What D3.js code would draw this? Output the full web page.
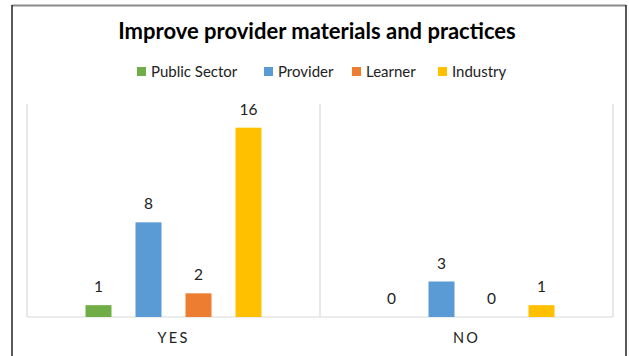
<!DOCTYPE html>
<html>
<head>
<meta charset="utf-8">
<script src="https://cdn.jsdelivr.net/npm/d3@7"></script>
<style>
  html, body { margin: 0; padding: 0; background: #fff; }
  svg { display: block; font-family: Lato, "Open Sans", sans-serif; }
</style>
</head>
<body>
<svg id="chart" width="629" height="356"></svg>
<script>
// Responses per stakeholder group
const categories = ["YES", "NO"];
const seriesNames = ["Public Sector", "Provider", "Learner", "Industry"];
const seriesColors = ["#70AD47", "#5B9BD5", "#ED7D31", "#FFC000"];
const publicSector = [1, 0];
const provider = [8, 3];
const learner = [2, 0];
const industry = [16, 1];
const yDomainMax = 18;

const seriesValues = [publicSector, provider, learner, industry];
const rows = categories.map((c, i) => ({
  category: c,
  values: seriesNames.map((s, j) => ({ series: s, value: seriesValues[j][i], color: seriesColors[j] }))
}));

const svg = d3.select("#chart");
const plot = { left: 27, right: 613, top: 104, bottom: 317 };

// Frame around the chart
svg.append("line").attr("x1", 12).attr("x2", 626).attr("y1", 5.5).attr("y2", 5.5)
  .attr("stroke", "#8a8a8a").attr("stroke-width", 2);
svg.append("line").attr("x1", 12).attr("x2", 12).attr("y1", 5).attr("y2", 356)
  .attr("stroke", "#222").attr("stroke-width", 1.5);
svg.append("line").attr("x1", 626).attr("x2", 626).attr("y1", 5).attr("y2", 356)
  .attr("stroke", "#222").attr("stroke-width", 1.5);

// Title
svg.append("text")
  .attr("x", 317).attr("y", 39)
  .attr("text-anchor", "middle")
  .attr("font-size", 22).attr("font-weight", 700).attr("fill", "#000")
  .text("Improve provider materials and practices");

// Legend
const legendX = [137, 264, 352, 438];
const legend = svg.append("g");
seriesNames.forEach((name, i) => {
  const g = legend.append("g").attr("transform", `translate(${legendX[i]},67)`);
  g.append("rect").attr("width", 9).attr("height", 9).attr("fill", seriesColors[i]);
  g.append("text").attr("x", 14).attr("y", 9.5).attr("font-size", 15).attr("fill", "#222").text(name);
});

// Scales
const x0 = d3.scaleBand().domain(categories).range([plot.left, plot.right]).padding(0);
const x1 = d3.scaleBand().domain(seriesNames).range([0, x0.bandwidth()])
  .paddingInner(0.48).paddingOuter(1.17);
const y = d3.scaleLinear().domain([0, yDomainMax]).range([plot.bottom, plot.top]);

// Category separators and baseline
const grid = svg.append("g").attr("stroke", "#d9d9d9").attr("stroke-width", 1.2);
[...categories.map(c => x0(c)), plot.right].forEach(xv => {
  grid.append("line").attr("x1", xv).attr("x2", xv).attr("y1", plot.top).attr("y2", plot.bottom);
});
grid.append("line").attr("x1", plot.left).attr("x2", plot.right).attr("y1", plot.bottom).attr("y2", plot.bottom);

// Bars with value labels
const groups = svg.append("g").selectAll("g").data(rows).join("g")
  .attr("transform", d => `translate(${x0(d.category)},0)`);

groups.selectAll("rect").data(d => d.values).join("rect")
  .attr("x", d => x1(d.series))
  .attr("y", d => y(d.value))
  .attr("width", x1.bandwidth())
  .attr("height", d => y(0) - y(d.value))
  .attr("fill", d => d.color);

groups.selectAll("text").data(d => d.values).join("text")
  .attr("x", d => x1(d.series) + x1.bandwidth() / 2)
  .attr("y", d => y(d.value) - 13)
  .attr("text-anchor", "middle")
  .attr("font-size", 15.5).attr("fill", "#222")
  .text(d => d.value);

// Category axis
const xAxis = svg.append("g")
  .attr("transform", `translate(0,${plot.bottom})`)
  .call(d3.axisBottom(x0).tickSize(0).tickPadding(16));
xAxis.select(".domain").remove();
xAxis.selectAll("text")
  .attr("font-family", "Lato, 'Open Sans', sans-serif")
  .attr("font-size", 14.5).attr("fill", "#222")
  .attr("letter-spacing", 2.2);
</script>
</body>
</html>
